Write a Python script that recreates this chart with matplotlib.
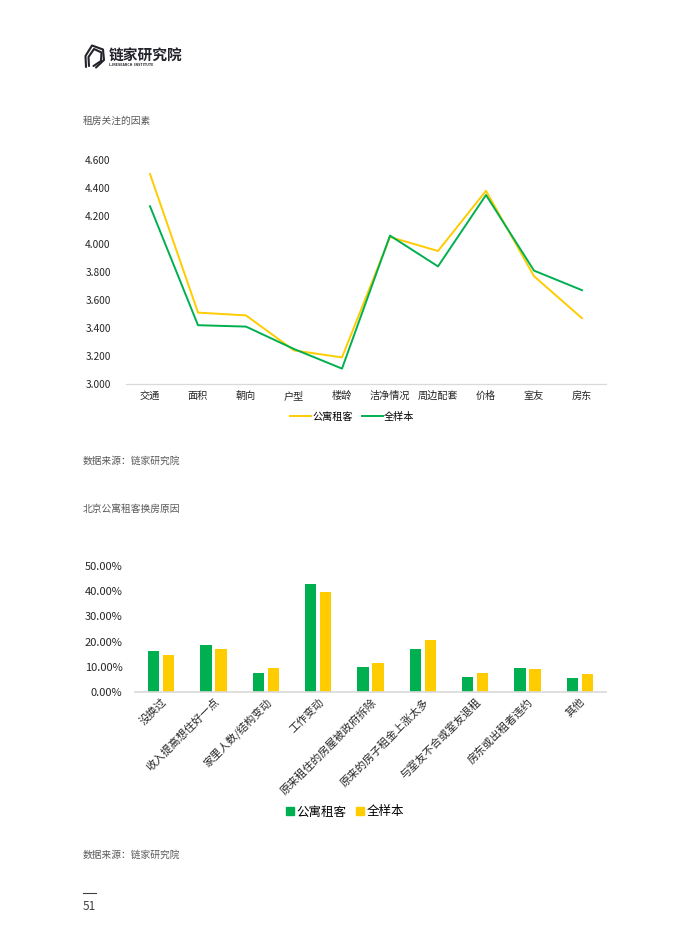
import matplotlib
matplotlib.use("Agg")
import matplotlib.pyplot as plt
from matplotlib.patches import Polygon
from matplotlib.lines import Line2D
from matplotlib.patches import Patch

plt.rcParams['font.family'] = ['Noto Sans CJK SC', 'DejaVu Sans']

# ---------------------------------------------------------------
# data
# ---------------------------------------------------------------
factors = ['交通', '面积', '朝向', '户型', '楼龄', '洁净情况', '周边配套', '价格', '室友', '房东']
apt_score = [4.50, 3.51, 3.49, 3.24, 3.19, 4.05, 3.95, 4.38, 3.77, 3.47]
all_score = [4.27, 3.42, 3.41, 3.25, 3.11, 4.06, 3.84, 4.35, 3.81, 3.67]
y1_ticks = [3.0, 3.2, 3.4, 3.6, 3.8, 4.0, 4.2, 4.4, 4.6]

reasons = ['没换过', '收入提高想住好一点', '家里人数/结构变动', '工作变动',
           '原来租住的房屋被政府拆除', '原来的房子租金上涨太多',
           '与室友不合或室友退租', '房东或出租者违约', '其他']
apt_pct = [16.1, 18.5, 7.4, 42.9, 10.0, 17.2, 6.0, 9.4, 5.4]
all_pct = [14.8, 17.2, 9.5, 39.8, 11.4, 20.6, 7.7, 9.1, 7.0]
y2_ticks = [0, 10, 20, 30, 40, 50]

series_names = ['公寓租客', '全样本']

GREEN = '#00B050'
YELLOW = '#FFCC00'
GREY_TXT = '#595959'
TICK_TXT = '#262626'
AXIS_GREY = '#D9D9D9'
LOGO = '#23232b'

W, H = 700, 950
fig = plt.figure(figsize=(W / 100, H / 100), dpi=100)


def fx(px):
    return px / W


def fy(py):
    return 1 - py / H


# ---------------------------------------------------------------
# header logo (pixel coords inside a small box, y downwards)
# ---------------------------------------------------------------
logo = fig.add_axes([fx(80), fy(72), fx(28), 32 / H])
logo.set_xlim(80, 108)
logo.set_ylim(72, 40)
logo.axis('off')
outer = Polygon([(86, 67), (85.5, 56), (92, 45.5), (103, 49.5), (104, 60), (96, 67.5)],
                closed=False, fill=False, ec=LOGO, lw=1.5, joinstyle='round',
                capstyle='round', clip_on=False)
inner = Polygon([(89, 66), (88.5, 57), (94, 49), (101.5, 52.5), (101, 61), (93.5, 66), (89, 66)],
                closed=False, fill=False, ec=LOGO, lw=1.5, joinstyle='round',
                capstyle='round', clip_on=False)
logo.add_patch(outer)
logo.add_patch(inner)

fig.text(fx(108.5), fy(55), '链家研究院', fontsize=10.6, fontweight='bold',
         color=LOGO, va='center', ha='left')
fig.text(fx(109), fy(65), 'LJRESEARCH  INSTITUTE', fontsize=2.6,
         color=LOGO, va='center', ha='left', fontweight='bold')

# ---------------------------------------------------------------
# chart 1: line chart
# ---------------------------------------------------------------
fig.text(fx(83), fy(121), '租房关注的因素', fontsize=7, color=GREY_TXT, va='center')

ax1 = fig.add_axes([fx(126), fy(384), fx(480), 224 / H])
x1 = range(len(factors))
ax1.plot(x1, apt_score, color=YELLOW, lw=1.4, label=series_names[0])
ax1.plot(x1, all_score, color=GREEN, lw=1.4, label=series_names[1])
ax1.set_xlim(-0.5, len(factors) - 0.5)
ax1.set_ylim(3.0, 4.6)
ax1.set_yticks(y1_ticks)
ax1.set_yticklabels([f'{v:.3f}' for v in y1_ticks])
ax1.set_xticks(list(x1))
ax1.set_xticklabels(factors)
for s in ['top', 'right', 'left']:
    ax1.spines[s].set_visible(False)
ax1.spines['bottom'].set_color(AXIS_GREY)
ax1.spines['bottom'].set_linewidth(0.9)
ax1.tick_params(axis='both', length=0, labelsize=7.3, colors=TICK_TXT)
ax1.tick_params(axis='y', pad=11)
ax1.tick_params(axis='x', pad=5)

h1 = [Line2D([], [], color=YELLOW, lw=1.4), Line2D([], [], color=GREEN, lw=1.4)]
fig.legend(h1, series_names, loc='center', bbox_to_anchor=(fx(352), fy(417)),
           ncol=2, frameon=False, fontsize=7.3, handlelength=2.1,
           handletextpad=0.1, columnspacing=0.9)

fig.text(fx(83), fy(461), '数据来源：链家研究院', fontsize=7, color=GREY_TXT, va='center')

# ---------------------------------------------------------------
# chart 2: grouped bars
# ---------------------------------------------------------------
fig.text(fx(83), fy(509), '北京公寓租客换房原因', fontsize=7, color=GREY_TXT, va='center')

ax2 = fig.add_axes([fx(135), fy(692), fx(471), 126 / H])
x2 = range(len(reasons))
bw = 0.216
off = 0.143
ax2.bar([i - off for i in x2], apt_pct, width=bw, color=GREEN, label=series_names[0])
ax2.bar([i + off for i in x2], all_pct, width=bw, color=YELLOW, label=series_names[1])
ax2.set_xlim(-0.5, len(reasons) - 0.5)
ax2.set_ylim(0, 50)
ax2.set_yticks(y2_ticks)
ax2.set_yticklabels([f'{v:.2f}%' for v in y2_ticks])
ax2.set_xticks(list(x2))
ax2.set_xticklabels(reasons, rotation=45, ha='right', va='top', rotation_mode='anchor')
for s in ['top', 'right', 'left']:
    ax2.spines[s].set_visible(False)
ax2.spines['bottom'].set_color(AXIS_GREY)
ax2.spines['bottom'].set_linewidth(1.2)
ax2.tick_params(axis='both', length=0, colors=TICK_TXT)
ax2.tick_params(axis='y', labelsize=8, pad=9)
ax2.tick_params(axis='x', labelsize=7.8, pad=3)

h2 = [Patch(color=GREEN), Patch(color=YELLOW)]
fig.legend(h2, series_names, loc='center', bbox_to_anchor=(fx(345), fy(812)),
           ncol=2, frameon=False, fontsize=9, handlelength=0.6, handleheight=0.6,
           handletextpad=0.2, columnspacing=0.8)

fig.text(fx(83), fy(855), '数据来源：链家研究院', fontsize=7, color=GREY_TXT, va='center')

# ---------------------------------------------------------------
# page number
# ---------------------------------------------------------------
fig.add_artist(Line2D([fx(83), fx(96)], [fy(893), fy(893)], color='#404040', lw=0.8))
fig.text(fx(83), fy(907), '51', fontsize=8.5, color='#404040', va='center')

fig.savefig('out.png', dpi=100, facecolor='white')
